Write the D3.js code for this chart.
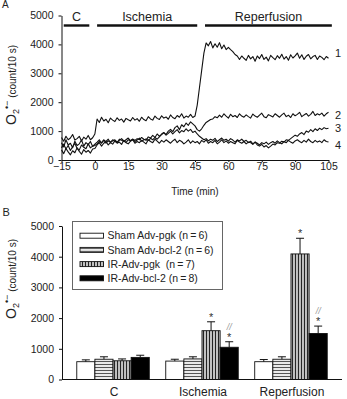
<!DOCTYPE html>
<html>
<head>
<meta charset="utf-8">
<script src="https://cdn.jsdelivr.net/npm/d3@7"></script>
<style>
  body { margin: 0; background: #fff; }
  svg { display: block; font-family: "Liberation Sans", Arial, Helvetica, sans-serif; }
</style>
</head>
<body>
<div id="chart"></div>
<script>
// ---- panel A : chemiluminescence traces, one sample per minute (-15 .. 105) ----
var minutes = d3.range(-15, 106);

var trace1 = [780, 650, 820, 700, 760, 880, 690, 740, 820, 660, 790, 720, 850, 700, 770,
  900,
  1420, 1300, 1480, 1350, 1410, 1290, 1450, 1380, 1330, 1460, 1370, 1420, 1310, 1440, 1390,
  1350, 1470, 1380, 1430, 1340, 1480, 1400, 1360, 1500, 1420, 1380, 1520, 1440, 1400, 1530,
  1450, 1490, 1410, 1560, 1470, 1430, 1540, 1480, 1600, 1450, 1520, 1480, 1580, 1470, 1520,
  1900, 2500, 3100, 3700, 4050,
  3950, 4100, 3880, 4020, 3900, 4060, 3850, 3980, 3820, 3900,
  3820, 3750, 3650, 3600, 3480, 3600, 3520, 3450, 3620, 3500, 3580, 3420, 3600, 3510, 3650,
  3480, 3560, 3430, 3620, 3540, 3470, 3610, 3520, 3660, 3490, 3580, 3450, 3640, 3530, 3600,
  3700, 3520, 3640, 3480, 3590, 3650, 3500, 3580, 3620, 3480, 3600, 3550, 3470, 3580, 3520];

var trace2 = [600, 450, 700, 520, 580, 420, 650, 500, 560, 690, 480, 600, 530, 640, 470,
  550,
  620, 700, 580, 680, 640, 720, 600, 660, 700, 620, 680, 740, 650, 610, 700,
  670, 720, 640, 690, 760, 650, 700, 730, 680, 750, 700, 780, 720, 800,
  900, 950, 880, 1000, 1060, 980, 1120, 1180, 1050, 1220, 1150, 1280, 1200, 1320, 1250, 1180,
  1050, 1000, 1080, 1200, 1300, 1350, 1400,
  1420, 1500, 1460, 1550, 1480, 1600, 1520, 1450, 1580, 1500,
  1540, 1470, 1600, 1520, 1480, 1560, 1500, 1450, 1590, 1520,
  1480, 1550, 1620, 1500, 1460, 1570, 1530, 1490, 1600, 1540,
  1480, 1560, 1620, 1500, 1550, 1470, 1600, 1530, 1580, 1650,
  1500, 1560, 1610, 1520, 1580, 1680, 1540, 1600, 1560, 1620,
  1520, 1600, 1650];

var trace3 = [420, 550, 380, 500, 330, 460, 580, 400, 350, 520, 440, 390, 560, 420, 480,
  500,
  560, 640, 600, 700, 580, 660, 620, 700, 650, 600,
  720, 680, 640, 700, 760, 660, 720, 680, 740, 700,
  780, 720, 680, 800, 760, 850, 780, 900, 820, 880,
  950, 860, 920, 1000, 900, 980, 1050, 940, 1020, 980,
  1080, 1000, 1060, 950, 1000,
  900, 820, 760, 700, 740, 660, 720, 680, 750, 640,
  700, 760, 680, 720, 650, 740, 690, 620, 700, 660,
  720, 640, 680, 600, 650, 560, 620, 520, 480, 540,
  450, 500, 420, 480, 550, 520, 600, 580, 650, 620,
  700, 680, 740,
  800, 860, 820, 900, 950, 880, 1000, 960, 1050, 980, 1080, 1020, 1100, 1050, 1120, 1080, 1100];

var trace4 = [350, 220, 400, 280, 180, 320, 250, 420, 300, 200, 360, 270, 330, 240, 380,
  400,
  520, 600, 480, 580, 640, 520, 600, 550, 660, 580,
  620, 540, 680, 600, 560, 650, 700, 580, 640, 600,
  680, 620, 560, 700, 640, 600, 720, 650, 580, 680,
  620, 700, 640, 580, 660, 720, 600, 680, 640, 560,
  620, 700, 580, 660, 600, 640, 560, 680, 620, 700,
  580, 640, 600, 680, 560, 620, 700, 600, 660, 580,
  640, 600, 560, 680, 620, 580, 640, 560, 620, 600,
  540, 620, 580, 520, 600, 560, 620, 540, 600, 640,
  580, 660, 600, 560, 640, 600, 680, 620, 580, 660,
  700, 640, 600, 680, 620, 720, 640, 600, 680, 620,
  660, 600, 700, 640, 620];

var traceNames = ["1", "2", "3", "4"];

var phaseNames = ["C", "Ischemia", "Reperfusion"];
var phaseFrom = [-14, 1, 49.5];
var phaseTo = [-2.5, 46, 106.5];

var timeTicks = [-15, 0, 15, 30, 45, 60, 75, 90, 105];
var countTicks = [0, 1000, 2000, 3000, 4000, 5000];

// ---- panel B : mean +/- sem per phase ----
var phases = ["C", "Ischemia", "Reperfusion"];
var groups = ["Sham Adv-pgk", "Sham Adv-bcl-2", "IR-Adv-pgk", "IR-Adv-bcl-2"];
var groupN = [6, 6, 7, 8];

var shamPgk = [580, 600, 580];
var shamBcl2 = [660, 670, 660];
var irPgk = [610, 1590, 4090];
var irBcl2 = [720, 1050, 1500];

var shamPgkSem = [60, 60, 70];
var shamBcl2Sem = [80, 70, 80];
var irPgkSem = [60, 290, 510];
var irBcl2Sem = [70, 180, 240];

// significance marks: * vs sham, // vs IR-Adv-pgk
var irPgkStar = [false, true, true];
var irBcl2Star = [false, true, true];
var irBcl2Hash = [false, true, true];

var W = 347, H = 399;

var svg = d3.select("#chart").append("svg")
    .attr("width", W)
    .attr("height", H);

var defs = svg.append("defs");

var hpat = defs.append("pattern")
    .attr("id", "hstripe")
    .attr("patternUnits", "userSpaceOnUse")
    .attr("width", 4).attr("height", 3);
hpat.append("rect").attr("width", 4).attr("height", 3).attr("fill", "#f2f2f2");
hpat.append("line").attr("x1", 0).attr("x2", 4).attr("y1", 1.5).attr("y2", 1.5)
    .attr("stroke", "#555").attr("stroke-width", 1.1);

var vpat = defs.append("pattern")
    .attr("id", "vstripe")
    .attr("patternUnits", "userSpaceOnUse")
    .attr("width", 3).attr("height", 4);
vpat.append("rect").attr("width", 3).attr("height", 4).attr("fill", "#ddd");
vpat.append("line").attr("x1", 1.5).attr("x2", 1.5).attr("y1", 0).attr("y2", 4)
    .attr("stroke", "#222").attr("stroke-width", 1.3);

var groupFill = ["#fff", "url(#hstripe)", "url(#vstripe)", "#000"];

function yLabel(cx, cy) {
  var t = svg.append("text")
      .attr("transform", "translate(" + cx + "," + cy + ") rotate(-90)")
      .attr("text-anchor", "middle")
      .attr("fill", "#222");
  t.append("tspan").style("font-size", "14px").text("O");
  t.append("tspan").attr("dy", 3).style("font-size", "9px").text("2");
  t.append("tspan").attr("dy", -9).style("font-size", "9px").text("\u2022\u2212");
  t.append("tspan").attr("dy", 6).style("font-size", "10px").text(" (count/10 s)");
}

function customYAxis(g, scale) {
  g.call(d3.axisLeft(scale).tickValues(countTicks).tickFormat(d3.format("d"))
      .tickSize(3).tickSizeOuter(0).tickPadding(5));
  g.selectAll(".tick text").style("font-size", "10.5px").attr("fill", "#222");
  g.selectAll("line, path").attr("stroke", "#111");
}

// ================= Panel A =================
var xA = d3.scaleLinear().domain([-15, 105]).range([61.5, 328.5]);
var yA = d3.scaleLinear().domain([0, 5000]).range([160, 15.5]);

svg.append("text").attr("x", 2).attr("y", 8)
    .style("font-size", "10px").attr("fill", "#222").text("A");

var gA = svg.append("g");

var traces = [trace1, trace2, trace3, trace4];
var line = d3.line()
    .x(function(d, i) { return xA(minutes[i]); })
    .y(function(d) { return yA(d); });

gA.selectAll(".trace")
    .data(traces)
    .enter().append("path")
    .attr("class", "trace")
    .attr("fill", "none")
    .attr("stroke", "#111")
    .attr("stroke-width", 1.1)
    .attr("stroke-linejoin", "round")
    .attr("d", line);

// curve numbers at the right end
var labelDy = [-1, 7, 4, 7];
gA.selectAll(".tlabel")
    .data(traces)
    .enter().append("text")
    .attr("class", "tlabel")
    .attr("x", 335)
    .attr("y", function(d, i) { return yA(d[d.length - 1]) + labelDy[i]; })
    .style("font-size", "11px")
    .attr("fill", "#222")
    .text(function(d, i) { return traceNames[i]; });

// phase bars on top
gA.selectAll(".phase")
    .data(phaseNames)
    .enter().append("line")
    .attr("x1", function(d, i) { return xA(phaseFrom[i]); })
    .attr("x2", function(d, i) { return xA(phaseTo[i]); })
    .attr("y1", 25.5).attr("y2", 25.5)
    .attr("stroke", "#111").attr("stroke-width", 2.4);

gA.selectAll(".phaseText")
    .data(phaseNames)
    .enter().append("text")
    .attr("x", function(d, i) { return xA((phaseFrom[i] + phaseTo[i]) / 2); })
    .attr("y", 21)
    .attr("text-anchor", "middle")
    .style("font-size", "12.5px")
    .attr("fill", "#222")
    .text(function(d) { return d; });

gA.append("g")
    .attr("transform", "translate(0," + yA(0) + ")")
    .call(d3.axisBottom(xA).tickValues(timeTicks).tickSize(2).tickSizeOuter(0).tickPadding(1))
    .call(function(g) {
      g.selectAll(".tick text").style("font-size", "10.5px").attr("fill", "#222");
      g.selectAll("line, path").attr("stroke", "#111");
    });

gA.append("g")
    .attr("transform", "translate(" + xA(-15) + ",0)")
    .call(customYAxis, yA);

gA.append("text")
    .attr("x", 195).attr("y", 195)
    .attr("text-anchor", "middle")
    .style("font-size", "10px")
    .attr("fill", "#222")
    .text("Time (min)");

yLabel(16, 85);

// ================= Panel B =================
var yB = d3.scaleLinear().domain([0, 5000]).range([379.5, 226]);
var xB = d3.scaleBand().domain(phases).range([62, 342]).paddingInner(0.185).paddingOuter(0.166);
var xInner = d3.scaleBand().domain(groups).range([0, xB.bandwidth()]);

svg.append("text").attr("x", 2.5).attr("y", 215.5)
    .style("font-size", "11px").attr("fill", "#222").text("B");

var means = [shamPgk, shamBcl2, irPgk, irBcl2];
var sems = [shamPgkSem, shamBcl2Sem, irPgkSem, irBcl2Sem];

var barData = [];
phases.forEach(function(p, pi) {
  groups.forEach(function(g, gi) {
    barData.push({
      phase: p, group: g, gi: gi,
      mean: means[gi][pi], sem: sems[gi][pi],
      star: (gi === 2 && irPgkStar[pi]) || (gi === 3 && irBcl2Star[pi]),
      hash: gi === 3 && irBcl2Hash[pi]
    });
  });
});

var gB = svg.append("g");

var bar = gB.selectAll(".bar")
    .data(barData)
    .enter().append("g")
    .attr("transform", function(d) { return "translate(" + (xB(d.phase) + xInner(d.group)) + ",0)"; });

var bw = xInner.bandwidth();

bar.append("rect")
    .attr("x", 0)
    .attr("y", function(d) { return yB(d.mean); })
    .attr("width", bw)
    .attr("height", function(d) { return yB(0) - yB(d.mean); })
    .attr("fill", function(d) { return groupFill[d.gi]; })
    .attr("stroke", "#111")
    .attr("stroke-width", 0.9);

bar.append("line")
    .attr("x1", bw / 2).attr("x2", bw / 2)
    .attr("y1", function(d) { return yB(d.mean); })
    .attr("y2", function(d) { return yB(d.mean + d.sem); })
    .attr("stroke", "#111").attr("stroke-width", 1);

bar.append("line")
    .attr("x1", bw / 2 - 4).attr("x2", bw / 2 + 4)
    .attr("y1", function(d) { return yB(d.mean + d.sem); })
    .attr("y2", function(d) { return yB(d.mean + d.sem); })
    .attr("stroke", "#111").attr("stroke-width", 1);

bar.filter(function(d) { return d.star; })
    .append("text")
    .attr("x", bw / 2)
    .attr("y", function(d) { return yB(d.mean + d.sem) - 1; })
    .attr("text-anchor", "middle")
    .style("font-size", "11px")
    .attr("fill", "#333")
    .text("*");

bar.filter(function(d) { return d.hash; })
    .append("text")
    .attr("x", bw / 2)
    .attr("y", function(d) { return yB(d.mean + d.sem) - 12; })
    .attr("text-anchor", "middle")
    .style("font-size", "9px")
    .style("font-style", "italic")
    .attr("fill", "#999")
    .text("//");

gB.append("line")
    .attr("x1", 62).attr("x2", 342)
    .attr("y1", yB(0)).attr("y2", yB(0))
    .attr("stroke", "#111");

gB.selectAll(".cat")
    .data(phases)
    .enter().append("text")
    .attr("x", function(d) { return xB(d) + xB.bandwidth() / 2 + 1; })
    .attr("y", 395.5)
    .attr("text-anchor", "middle")
    .style("font-size", "12px")
    .attr("fill", "#222")
    .text(function(d) { return d; });

gB.append("g")
    .attr("transform", "translate(62,0)")
    .call(customYAxis, yB);

yLabel(16, 279);

// legend
var legend = gB.append("g");
legend.append("rect")
    .attr("x", 72.5).attr("y", 221.5)
    .attr("width", 150).attr("height", 68)
    .attr("fill", "#fff")
    .attr("stroke", "#666");

var legendLabels = [
  groups[0] + " (n\u2009=\u2009" + groupN[0] + ")",
  groups[1] + " (n\u2009=\u2009" + groupN[1] + ")",
  groups[2] + " \u00a0(n\u2009=\u2009" + groupN[2] + ")",
  groups[3] + " (n\u2009=\u2009" + groupN[3] + ")"
];

var item = legend.selectAll(".item")
    .data(groups)
    .enter().append("g")
    .attr("transform", function(d, i) { return "translate(0," + (235.7 + i * 14.2) + ")"; });

item.append("rect")
    .attr("x", 80).attr("y", -2.5)
    .attr("width", 23.5).attr("height", 5)
    .attr("fill", function(d, i) { return groupFill[i]; })
    .attr("stroke", "#111")
    .attr("stroke-width", 0.9);

item.append("text")
    .attr("x", 107.5).attr("y", 3.6)
    .style("font-size", "10.5px")
    .attr("fill", "#222")
    .text(function(d, i) { return legendLabels[i]; });
</script>
</body>
</html>
